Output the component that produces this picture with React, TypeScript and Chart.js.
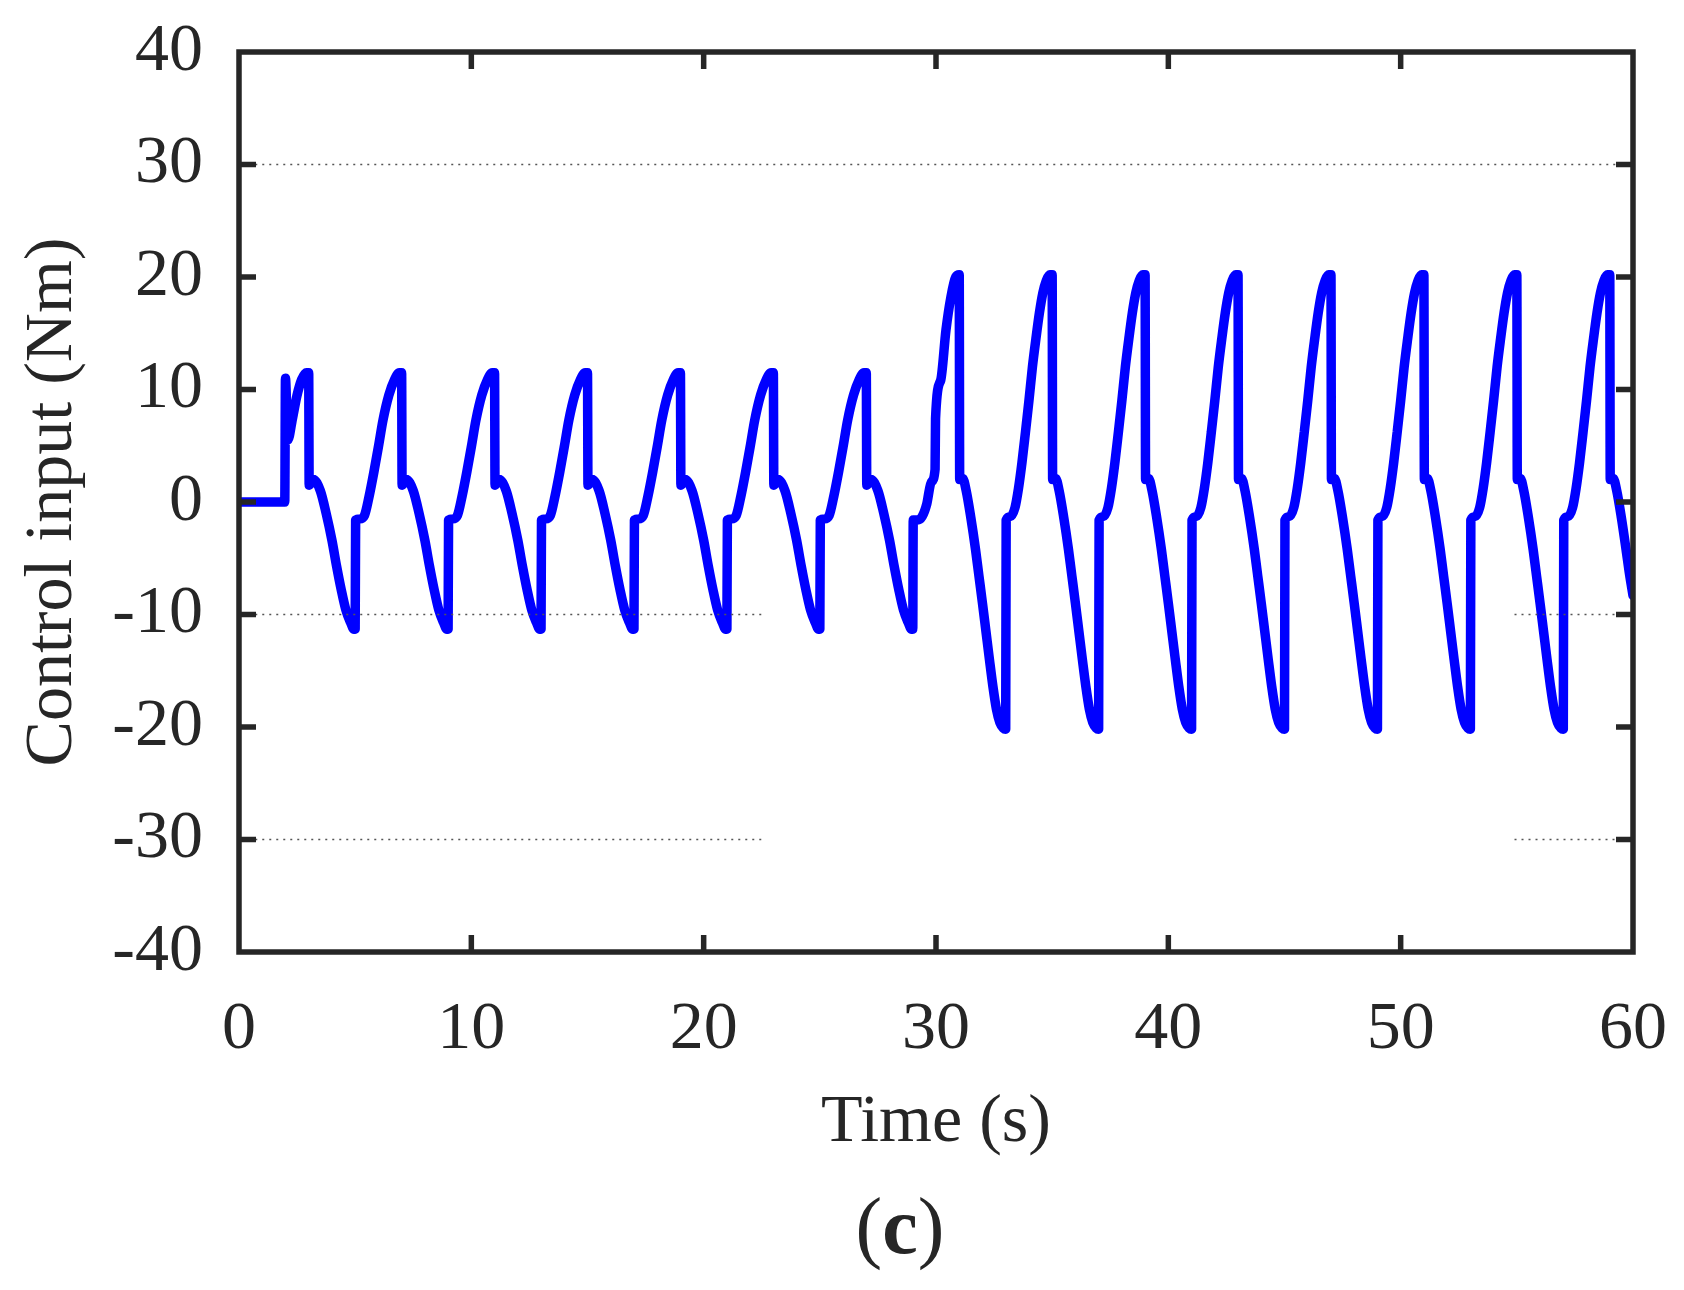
import { useEffect, useRef } from 'react';
import { Chart, registerables } from 'chart.js';

Chart.register(...registerables);

const xTicks = [0, 10, 20, 30, 40, 50, 60];
const yTicks = [-40, -30, -20, -10, 0, 10, 20, 30, 40];

// [time s, torque Nm]
const startSegment: [number, number][] = [
  [0, 0], [1.97, 0], [2.0, 11.0], [2.1, 5.5], [2.3, 7.4], [2.5, 9.5], [2.7, 10.9], [2.9, 11.5], [3.0, 11.5],
];

const smallCycles: [number, number][] = [
  [3.02, 1.5], [3.2, 2.0], [3.5, 1.0], [3.75, -1.0], [4.0, -3.4], [4.2, -5.7], [4.4, -7.8], [4.6, -9.6], [4.8, -10.7], [4.95, -11.3], [5.0, -11.3],
  [5.02, -1.6], [5.2, -1.5], [5.4, -1.2], [5.6, 0.5], [5.8, 2.6], [6.0, 4.9], [6.2, 7.3], [6.45, 9.5], [6.7, 10.9], [6.9, 11.5], [7.0, 11.5],
  [7.02, 1.5], [7.2, 2.0], [7.5, 1.0], [7.75, -1.0], [8.0, -3.4], [8.2, -5.7], [8.4, -7.8], [8.6, -9.6], [8.8, -10.7], [8.95, -11.3], [9.0, -11.3],
  [9.02, -1.6], [9.2, -1.5], [9.4, -1.2], [9.6, 0.5], [9.8, 2.6], [10.0, 4.9], [10.2, 7.3], [10.45, 9.5], [10.7, 10.9], [10.9, 11.5], [11.0, 11.5],
  [11.02, 1.5], [11.2, 2.0], [11.5, 1.0], [11.75, -1.0], [12.0, -3.4], [12.2, -5.7], [12.4, -7.8], [12.6, -9.6], [12.8, -10.7], [12.95, -11.3], [13.0, -11.3],
  [13.02, -1.6], [13.2, -1.5], [13.4, -1.2], [13.6, 0.5], [13.8, 2.6], [14.0, 4.9], [14.2, 7.3], [14.45, 9.5], [14.7, 10.9], [14.9, 11.5], [15.0, 11.5],
  [15.02, 1.5], [15.2, 2.0], [15.5, 1.0], [15.75, -1.0], [16.0, -3.4], [16.2, -5.7], [16.4, -7.8], [16.6, -9.6], [16.8, -10.7], [16.95, -11.3], [17.0, -11.3],
  [17.02, -1.6], [17.2, -1.5], [17.4, -1.2], [17.6, 0.5], [17.8, 2.6], [18.0, 4.9], [18.2, 7.3], [18.45, 9.5], [18.7, 10.9], [18.9, 11.5], [19.0, 11.5],
  [19.02, 1.5], [19.2, 2.0], [19.5, 1.0], [19.75, -1.0], [20.0, -3.4], [20.2, -5.7], [20.4, -7.8], [20.6, -9.6], [20.8, -10.7], [20.95, -11.3], [21.0, -11.3],
  [21.02, -1.6], [21.2, -1.5], [21.4, -1.2], [21.6, 0.5], [21.8, 2.6], [22.0, 4.9], [22.2, 7.3], [22.45, 9.5], [22.7, 10.9], [22.9, 11.5], [23.0, 11.5],
  [23.02, 1.5], [23.2, 2.0], [23.5, 1.0], [23.75, -1.0], [24.0, -3.4], [24.2, -5.7], [24.4, -7.8], [24.6, -9.6], [24.8, -10.7], [24.95, -11.3], [25.0, -11.3],
  [25.02, -1.6], [25.2, -1.5], [25.4, -1.2], [25.6, 0.5], [25.8, 2.6], [26.0, 4.9], [26.2, 7.3], [26.45, 9.5], [26.7, 10.9], [26.9, 11.5], [27.0, 11.5],
  [27.02, 1.5], [27.2, 2.0], [27.5, 1.0], [27.75, -1.0], [28.0, -3.4], [28.2, -5.7], [28.4, -7.8], [28.6, -9.6], [28.8, -10.7], [28.95, -11.3], [29.0, -11.3],
];

// switch to the larger amplitude around t = 30 s
const transition: [number, number][] = [
  [29.02, -1.6], [29.2, -1.6], [29.4, -1.3], [29.6, -0.2], [29.8, 1.8], [29.96, 2.9], [29.98, 7.4],
  [30.2, 10.8], [30.43, 15.3], [30.64, 18.2], [30.85, 20.0], [31.0, 20.2],
];

const largeCycles: [number, number][] = [
  [31.02, 2.0], [31.15, 2.1], [31.3, 1.0], [31.5, -1.4], [31.7, -4.2], [31.85, -6.6], [32.0, -9.0], [32.15, -11.5], [32.3, -14.0], [32.45, -16.4], [32.6, -18.4], [32.75, -19.6], [32.9, -20.1], [33.0, -20.2],
  [33.02, -1.6], [33.2, -1.3], [33.4, -0.5], [33.55, 1.2], [33.7, 3.5], [33.85, 6.2], [34.0, 9.0], [34.15, 12.0], [34.3, 14.5], [34.45, 16.8], [34.6, 18.6], [34.75, 19.7], [34.9, 20.2], [35.0, 20.2],
  [35.02, 2.0], [35.15, 2.1], [35.3, 1.0], [35.5, -1.4], [35.7, -4.2], [35.85, -6.6], [36.0, -9.0], [36.15, -11.5], [36.3, -14.0], [36.45, -16.4], [36.6, -18.4], [36.75, -19.6], [36.9, -20.1], [37.0, -20.2],
  [37.02, -1.6], [37.2, -1.3], [37.4, -0.5], [37.55, 1.2], [37.7, 3.5], [37.85, 6.2], [38.0, 9.0], [38.15, 12.0], [38.3, 14.5], [38.45, 16.8], [38.6, 18.6], [38.75, 19.7], [38.9, 20.2], [39.0, 20.2],
  [39.02, 2.0], [39.15, 2.1], [39.3, 1.0], [39.5, -1.4], [39.7, -4.2], [39.85, -6.6], [40.0, -9.0], [40.15, -11.5], [40.3, -14.0], [40.45, -16.4], [40.6, -18.4], [40.75, -19.6], [40.9, -20.1], [41.0, -20.2],
  [41.02, -1.6], [41.2, -1.3], [41.4, -0.5], [41.55, 1.2], [41.7, 3.5], [41.85, 6.2], [42.0, 9.0], [42.15, 12.0], [42.3, 14.5], [42.45, 16.8], [42.6, 18.6], [42.75, 19.7], [42.9, 20.2], [43.0, 20.2],
  [43.02, 2.0], [43.15, 2.1], [43.3, 1.0], [43.5, -1.4], [43.7, -4.2], [43.85, -6.6], [44.0, -9.0], [44.15, -11.5], [44.3, -14.0], [44.45, -16.4], [44.6, -18.4], [44.75, -19.6], [44.9, -20.1], [45.0, -20.2],
  [45.02, -1.6], [45.2, -1.3], [45.4, -0.5], [45.55, 1.2], [45.7, 3.5], [45.85, 6.2], [46.0, 9.0], [46.15, 12.0], [46.3, 14.5], [46.45, 16.8], [46.6, 18.6], [46.75, 19.7], [46.9, 20.2], [47.0, 20.2],
  [47.02, 2.0], [47.15, 2.1], [47.3, 1.0], [47.5, -1.4], [47.7, -4.2], [47.85, -6.6], [48.0, -9.0], [48.15, -11.5], [48.3, -14.0], [48.45, -16.4], [48.6, -18.4], [48.75, -19.6], [48.9, -20.1], [49.0, -20.2],
  [49.02, -1.6], [49.2, -1.3], [49.4, -0.5], [49.55, 1.2], [49.7, 3.5], [49.85, 6.2], [50.0, 9.0], [50.15, 12.0], [50.3, 14.5], [50.45, 16.8], [50.6, 18.6], [50.75, 19.7], [50.9, 20.2], [51.0, 20.2],
  [51.02, 2.0], [51.15, 2.1], [51.3, 1.0], [51.5, -1.4], [51.7, -4.2], [51.85, -6.6], [52.0, -9.0], [52.15, -11.5], [52.3, -14.0], [52.45, -16.4], [52.6, -18.4], [52.75, -19.6], [52.9, -20.1], [53.0, -20.2],
  [53.02, -1.6], [53.2, -1.3], [53.4, -0.5], [53.55, 1.2], [53.7, 3.5], [53.85, 6.2], [54.0, 9.0], [54.15, 12.0], [54.3, 14.5], [54.45, 16.8], [54.6, 18.6], [54.75, 19.7], [54.9, 20.2], [55.0, 20.2],
  [55.02, 2.0], [55.15, 2.1], [55.3, 1.0], [55.5, -1.4], [55.7, -4.2], [55.85, -6.6], [56.0, -9.0], [56.15, -11.5], [56.3, -14.0], [56.45, -16.4], [56.6, -18.4], [56.75, -19.6], [56.9, -20.1], [57.0, -20.2],
  [57.02, -1.6], [57.2, -1.3], [57.4, -0.5], [57.55, 1.2], [57.7, 3.5], [57.85, 6.2], [58.0, 9.0], [58.15, 12.0], [58.3, 14.5], [58.45, 16.8], [58.6, 18.6], [58.75, 19.7], [58.9, 20.2], [59.0, 20.2],
];

const endSegment: [number, number][] = [
  [59.02, 2.0], [59.15, 2.1], [59.3, 1.0], [59.5, -1.4], [59.7, -4.2], [59.85, -6.4], [60.0, -8.3],
];

// dotted grid pieces that are visible in the figure: level and [from, to] in seconds
const gridLevels = [30, -10, -30];
const gridSpans: [number, number][][] = [
  [[0.7, 59.3]],
  [[0.7, 22.6], [54.9, 59.3]],
  [[0.7, 22.6], [54.9, 59.3]],
];

const FONT = "'Liberation Serif', 'Times New Roman', serif";
const INK = '#262626';

const framePlugin = {
  id: 'frame',
  afterDatasetsDraw(chart: any) {
    const { ctx, chartArea, scales } = chart;
    const { left, right, top, bottom } = chartArea;
    const tl = 17;
    ctx.save();
    ctx.strokeStyle = INK;
    ctx.lineWidth = 5.5;
    ctx.beginPath();
    yTicks.slice(1, -1).forEach((v) => {
      const y = scales.y.getPixelForValue(v);
      ctx.moveTo(left, y);
      ctx.lineTo(left + tl, y);
      ctx.moveTo(right, y);
      ctx.lineTo(right - tl, y);
    });
    xTicks.slice(1, -1).forEach((v) => {
      const x = scales.x.getPixelForValue(v);
      ctx.moveTo(x, bottom);
      ctx.lineTo(x, bottom - tl);
      ctx.moveTo(x, top);
      ctx.lineTo(x, top + tl);
    });
    ctx.stroke();
    ctx.lineJoin = 'miter';
    ctx.strokeRect(left, top, right - left, bottom - top);
    ctx.restore();
  },
  afterDraw(chart: any) {
    const { ctx } = chart;
    ctx.save();
    ctx.fillStyle = INK;
    ctx.textBaseline = 'alphabetic';
    ctx.textAlign = 'left';
    const y = 1253;
    ctx.font = `80px ${FONT}`;
    const pw = ctx.measureText('(').width;
    ctx.font = `bold 80px ${FONT}`;
    const cw = ctx.measureText('c').width;
    const x0 = 900 - (2 * pw + cw) / 2;
    ctx.font = `80px ${FONT}`;
    ctx.fillText('(', x0, y);
    ctx.fillText(')', x0 + pw + cw, y);
    ctx.font = `bold 80px ${FONT}`;
    ctx.fillText('c', x0 + pw, y);
    ctx.restore();
  },
};

// keep the plot box where the figure has it: no extra room for overhanging labels
const noOverhang = (s: any) => {
  s.paddingTop = 0;
  s.paddingBottom = 0;
  s.paddingLeft = 0;
  s.paddingRight = 0;
};

const ControlInputChart = () => {
  const chartRef = useRef<HTMLCanvasElement>(null);

  useEffect(() => {
    const ctx = chartRef.current?.getContext('2d');
    if (!ctx) return;

    const series = [...startSegment, ...smallCycles, ...transition, ...largeCycles, ...endSegment];

    const gridSets: any[] = [];
    gridLevels.forEach((level, i) => {
      gridSpans[i].forEach(([a, b]) => {
        gridSets.push({
          data: [{ x: a, y: level }, { x: b, y: level }],
          showLine: true,
          borderColor: '#555555',
          borderWidth: 1.5,
          borderDash: [2, 5],
          pointRadius: 0,
        });
      });
    });

    const chartInstance = new Chart(ctx, {
      type: 'scatter',
      data: {
        datasets: [
          ...gridSets,
          {
            label: 'Control input',
            data: series.map(([x, y]) => ({ x, y })),
            showLine: true,
            borderColor: '#0000ff',
            borderWidth: 9.5,
            borderJoinStyle: 'round',
            borderCapStyle: 'round',
            cubicInterpolationMode: 'monotone',
            pointRadius: 0,
          },
        ],
      },
      options: {
        responsive: false,
        animation: false,
        devicePixelRatio: 1,
        layout: { padding: { top: 52, right: 51, left: 0, bottom: 0 } },
        plugins: { legend: { display: false }, tooltip: { enabled: false } },
        scales: {
          x: {
            type: 'linear',
            min: 0,
            max: 60,
            afterFit: (s: any) => { s.height = 338; noOverhang(s); },
            afterBuildTicks: (s: any) => { s.ticks = xTicks.map((v) => ({ value: v })); },
            ticks: { color: INK, padding: 29, font: { family: FONT, size: 68 } },
            grid: { display: false },
            border: { display: false },
            title: {
              display: true,
              text: 'Time (s)',
              color: INK,
              font: { family: FONT, size: 68 },
              padding: { top: 0, bottom: 126 },
            },
          },
          y: {
            type: 'linear',
            min: -40,
            max: 40,
            afterFit: (s: any) => { s.width = 239; noOverhang(s); },
            afterBuildTicks: (s: any) => { s.ticks = yTicks.map((v) => ({ value: v })); },
            ticks: { color: INK, padding: 28, font: { family: FONT, size: 68 } },
            grid: { display: false },
            border: { display: false },
            title: {
              display: true,
              text: 'Control input (Nm)',
              color: INK,
              font: { family: FONT, size: 68 },
              padding: { top: 12, bottom: 0 },
            },
          },
        },
      },
      plugins: [framePlugin],
    });

    return () => chartInstance.destroy();
  }, []);

  return (
    <div style={{ position: 'absolute', left: 0, top: 0, width: 1684, height: 1290, background: '#ffffff' }}>
      <canvas ref={chartRef} width={1684} height={1290} style={{ width: 1684, height: 1290 }} />
    </div>
  );
};

export default function App() {
  return <ControlInputChart />;
}
